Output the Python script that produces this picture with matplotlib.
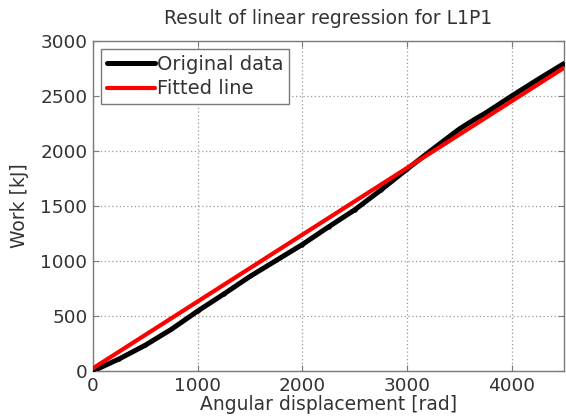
"""Linear regression result for L1P1: original work-vs-angle curve with the fitted line."""

import numpy as np
import matplotlib

matplotlib.use("Agg")

import matplotlib.pyplot as plt  # noqa: E402

# original data
angle = [0, 250, 500, 750, 1000, 1250, 1500, 1750, 2000, 2250, 2500, 2750,
         3000, 3250, 3500, 3650, 3750, 4000, 4250, 4500]
work = [0, 110, 235, 380, 545, 700, 860, 1005, 1150, 1310, 1465, 1645,
        1835, 2020, 2200, 2290, 2345, 2500, 2650, 2795]

# fitted line: work = slope * angle + intercept
slope = 0.607
intercept = 25.0

xticks = [0, 1000, 2000, 3000, 4000]
yticks = [0, 500, 1000, 1500, 2000, 2500, 3000]

plt.rcParams["font.family"] = ["DejaVu Sans"]
text_color = "#333333"
frame_color = "#7a7a7a"

fig = plt.figure(figsize=(5.66, 4.18), dpi=100)
ax = fig.add_axes([0.1643, 0.1124, 0.8322, 0.7895])

fit_x = np.array([angle[0], angle[-1]], dtype=float)
fit_y = slope * fit_x + intercept

ax.plot(angle, work, color="black", lw=3.6, marker=".", ms=4, label="Original data",
        solid_capstyle="round", solid_joinstyle="round", zorder=3)
ax.plot(fit_x, fit_y, color="#ff0000", lw=3.0, label="Fitted line",
        solid_capstyle="round", zorder=4)

ax.set_xlim(0, 4500)
ax.set_ylim(0, 3000)
ax.set_xticks(xticks)
ax.set_yticks(yticks)
ax.grid(True, color="#999999", linestyle=(0, (1, 2)), lw=0.9)
ax.tick_params(direction="in", length=4, width=0.8, color=frame_color,
               top=True, right=True, labelsize=13.3, labelcolor=text_color, pad=4)
for spine in ax.spines.values():
    spine.set_color(frame_color)
    spine.set_linewidth(1.0)

ax.set_title("Result of linear regression for L1P1", fontsize=13.5,
             color=text_color, pad=12)
ax.set_xlabel("Angular displacement [rad]", fontsize=13.5, color=text_color, labelpad=0)
ax.set_ylabel("Work [kJ]", fontsize=13.5, color=text_color, labelpad=8)

leg = ax.legend(loc="upper left", fontsize=14, handlelength=2.5, handletextpad=0.1,
                borderpad=0.3, labelspacing=0.3, fancybox=False, framealpha=1,
                edgecolor=frame_color, borderaxespad=0.4)
for text in leg.get_texts():
    text.set_color(text_color)

fig.savefig("out.png", dpi=100)
